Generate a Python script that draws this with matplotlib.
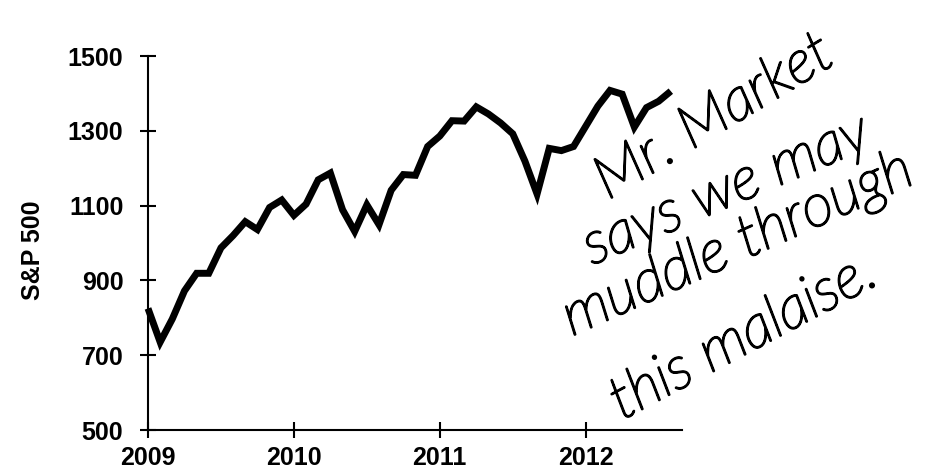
import numpy as np
import matplotlib.pyplot as plt
import matplotlib.patheffects as pe

# S&P 500 monthly close, Jan 2009 .. Aug 2012
sp500 = [825, 735, 797, 872, 919, 919, 987, 1020, 1057, 1036, 1095, 1115,
         1074, 1104, 1169, 1187, 1089, 1031, 1102, 1049, 1141, 1183, 1181, 1258,
         1286, 1327, 1326, 1364, 1345, 1321, 1292, 1219, 1131, 1253, 1247, 1258,
         1312, 1366, 1408, 1398, 1310, 1362, 1379, 1406]
start_year = 2009
y_ticks = [500, 700, 900, 1100, 1300, 1500]
x_ticks = [2009, 2010, 2011, 2012]

note_lines = ["Mr. Market", "says we may", "muddle through", "this malaise."]

plt.rcParams['font.family'] = ['Liberation Sans', 'DejaVu Sans']

x = start_year + np.arange(len(sp500)) / 12.0

fig = plt.figure(figsize=(9.28, 4.75), dpi=100)
W, H = 928, 475
ax = fig.add_axes([148 / W, 1 - 430 / H, (682 - 148) / W, (430 - 56) / H])

ax.plot(x, sp500, color='black', linewidth=5, solid_joinstyle='miter',
        solid_capstyle='butt', clip_on=False)

ax.set_xlim(2009, 2012.66)
ax.set_ylim(500, 1500)
ax.set_xticks(x_ticks)
ax.set_yticks(y_ticks)
ax.set_xticklabels([str(t) for t in x_ticks])
ax.set_yticklabels([str(t) for t in y_ticks])

for side in ['top', 'right']:
    ax.spines[side].set_visible(False)
for side in ['left', 'bottom']:
    ax.spines[side].set_linewidth(1.5)

ax.tick_params(axis='both', direction='inout', length=11.5, width=1.5,
               labelsize=18)
ax.tick_params(axis='y', pad=12)
ax.tick_params(axis='x', pad=6)
for lab in ax.get_xticklabels() + ax.get_yticklabels():
    lab.set_fontweight('bold')

ax.set_ylabel('S&P 500', fontsize=18, fontweight='bold')
ax.yaxis.set_label_coords(-0.192, 0.48)

# handwritten note, one line at a time
note_pos = [(608, 200, 31), (592, 265, 23), (572, 336, 24), (622, 420, 28)]
for line, (px, py, ang) in zip(note_lines, note_pos):
    fig.text(px / W, 1 - py / H, line, fontsize=43, rotation=ang,
             rotation_mode='anchor', ha='left', va='baseline',
             family=['Lato', 'DejaVu Sans'], fontweight='light',
             fontstyle='italic', color='black',
             path_effects=[pe.withStroke(linewidth=1.6, foreground='black')])

fig.savefig('out.png', dpi=100)
